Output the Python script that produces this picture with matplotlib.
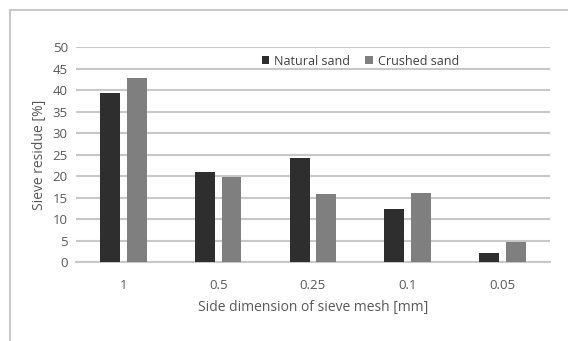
import numpy as np
import matplotlib.pyplot as plt
from matplotlib.lines import Line2D

plt.rcParams['font.family'] = ['Open Sans', 'DejaVu Sans']

categories = ['1', '0.5', '0.25', '0.1', '0.05']
natural = [39.3, 21.1, 24.3, 12.4, 2.2]
crushed = [42.9, 19.9, 15.9, 16.1, 4.7]

txt = '#595959'
fig = plt.figure(figsize=(5.68, 3.41), dpi=100)
ax = fig.add_axes([0.134, 0.231, 0.834, 0.63])

x = np.arange(len(categories))
w = 0.21
ax.bar(x - 0.14, natural, w, color='#2e2e2e', label='Natural sand', zorder=3)
ax.bar(x + 0.14, crushed, w, color='#7f7f7f', label='Crushed sand', zorder=3)

ax.set_xlim(-0.5, 4.5)
ax.set_ylim(0, 50)
ax.set_yticks(range(0, 51, 5))
ax.set_xticks(x)
ax.set_xticklabels(categories)
ax.grid(axis='y', color='#c8c8c8', linewidth=1.5, zorder=0)
for s in ['top', 'right', 'left']:
    ax.spines[s].set_visible(False)
ax.spines['bottom'].set_color('#c8c8c8')
ax.spines['bottom'].set_linewidth(1.5)
ax.tick_params(length=0, colors=txt, labelsize=9.5, pad=6)
ax.tick_params(axis='x', pad=12)
ax.set_ylabel('Sieve residue [%]', color=txt, fontsize=10, labelpad=4)
ax.set_xlabel('Side dimension of sieve mesh [mm]', color=txt, fontsize=10, labelpad=6)

leg = ax.legend(loc='center', bbox_to_anchor=(0.6, 0.936), ncol=2, frameon=False,
                fontsize=9, handlelength=0.6, handleheight=0.6, handletextpad=0.4,
                columnspacing=1.2, borderpad=0)
for t in leg.get_texts():
    t.set_color('#404040')

# outer chart frame (left and top only)
fig.add_artist(Line2D([0.018, 0.018], [0, 0.97], color='#c8c8c8', linewidth=1.5))
fig.add_artist(Line2D([0.018, 0.998], [0.97, 0.97], color='#c8c8c8', linewidth=1.5))

fig.savefig('out.png', dpi=100)
